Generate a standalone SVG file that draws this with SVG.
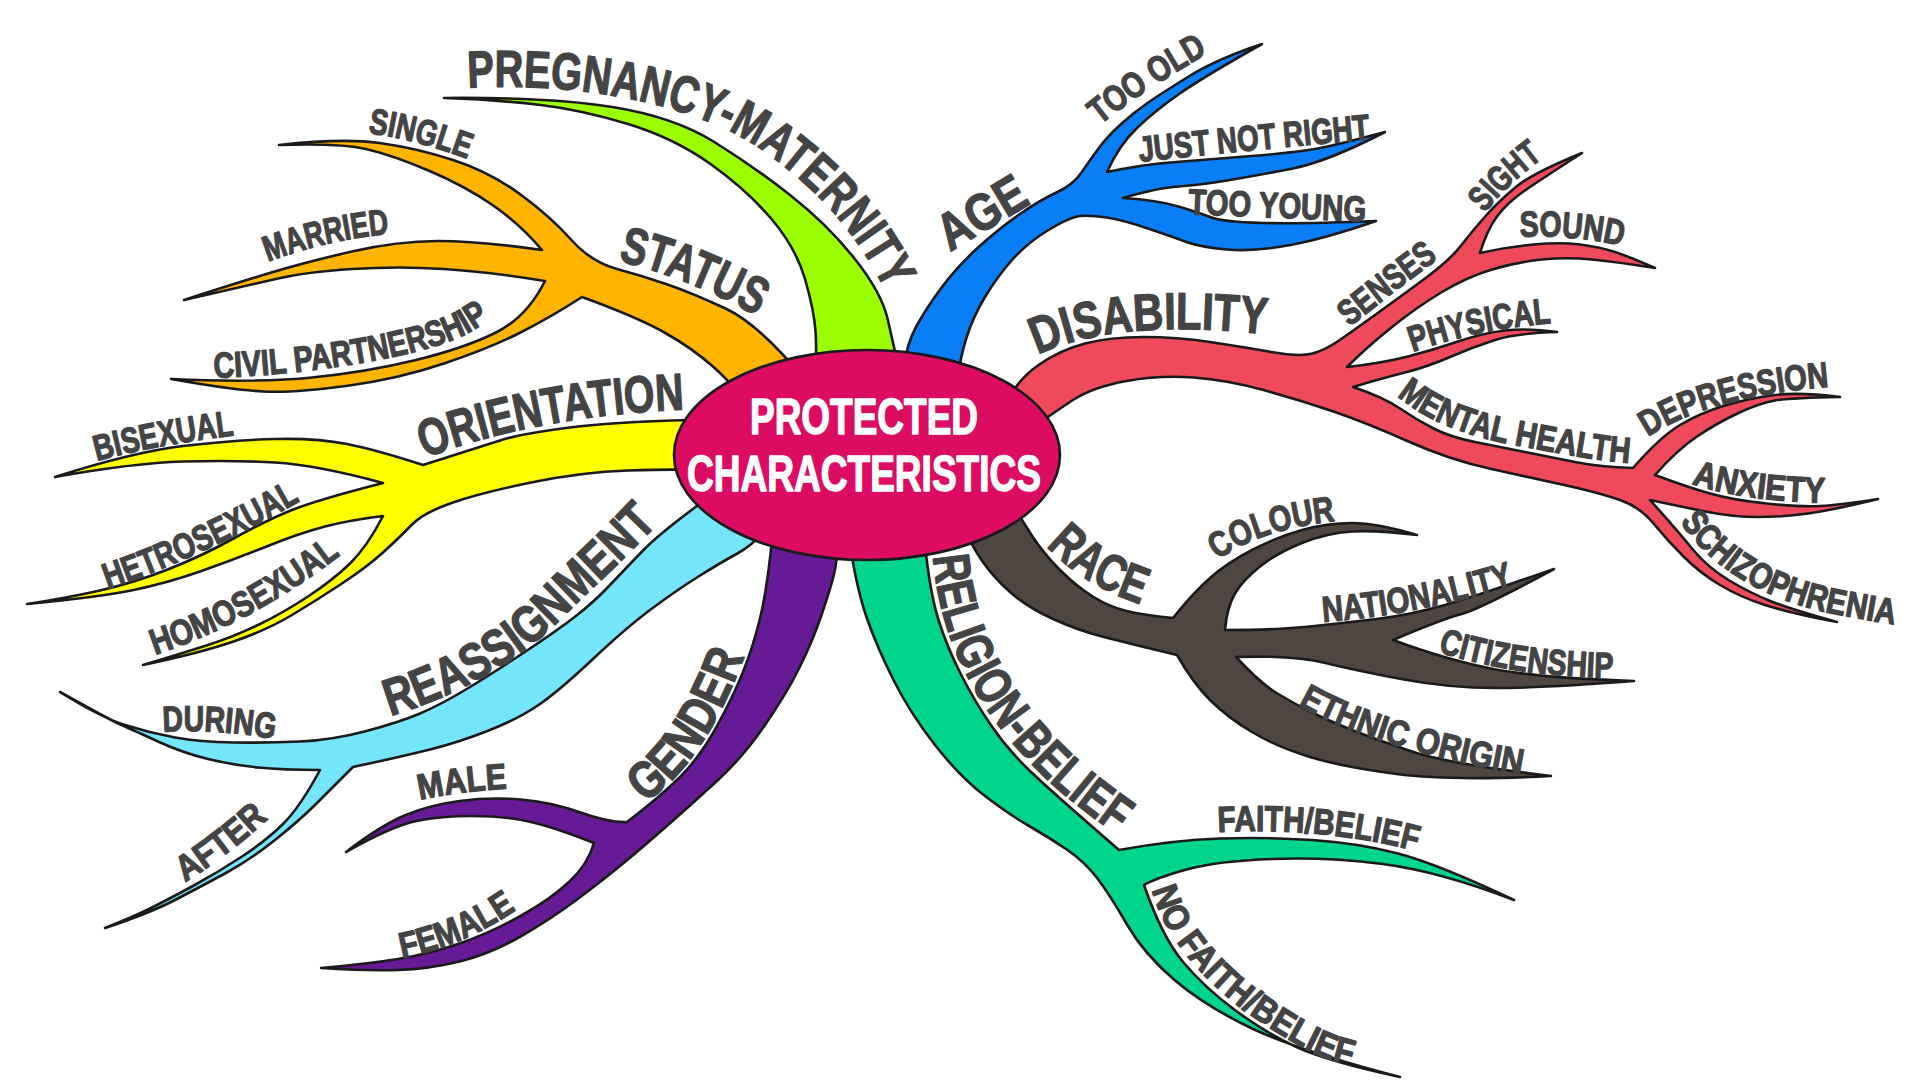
<svg xmlns="http://www.w3.org/2000/svg" width="1920" height="1080" viewBox="0 0 1920 1080">
<style>
.br{stroke:#1a1a1a;stroke-width:2.6;stroke-linejoin:round}
.lb{font-family:"Liberation Sans Narrow","Liberation Sans",Arial,sans-serif;font-weight:bold;fill:#444444;stroke:#444444;stroke-width:1.3px;stroke-linejoin:round}
.m{font-size:52px}
.s{font-size:36px}
.ct{font-family:"Liberation Sans Narrow","Liberation Sans",Arial,sans-serif;font-weight:bold;fill:#ffffff;stroke:#ffffff;stroke-width:1.4px;stroke-linejoin:round;font-size:50px;text-anchor:middle}
</style>
<defs>
<path id="t-preg" d="M 468 88 C 560 82 690 98 765 152 C 835 202 880 262 905 340"/>
<path id="t-status" d="M 618 261 Q 700 280 780 330"/>
<path id="t-orient" d="M 425 458 C 500 430 590 412 700 409"/>
<path id="t-age" d="M 950 252 L 1060 186"/>
<path id="t-dis" d="M 1038 355 C 1090 330 1170 322 1280 336"/>
<path id="t-race" d="M 1046 546 Q 1090 592 1160 610"/>
<path id="t-gender" d="M 645 803 C 685 775 725 725 760 610"/>
<path id="t-reass" d="M 390 716 C 460 695 520 660 560 620 S 630 555 675 505"/>
<path id="t-rel" d="M 933 556 C 940 640 975 700 1016 747 S 1090 815 1140 852"/>
<path id="t-single" d="M 368 133 Q 420 140 475 162"/>
<path id="t-married" d="M 268 262 Q 330 238 400 233"/>
<path id="t-civil" d="M 214 378 C 320 374 430 355 470 332 S 515 295 535 275"/>
<path id="t-bisex" d="M 97 461 Q 160 444 245 434"/>
<path id="t-hetro" d="M 108 589 Q 200 558 302 500"/>
<path id="t-homo" d="M 155 655 Q 260 620 352 546"/>
<path id="t-jnr" d="M 1140 162 Q 1250 150 1385 138"/>
<path id="t-old" d="M 1100 125 Q 1150 85 1225 44"/>
<path id="t-young" d="M 1188 214 Q 1280 218 1375 222"/>
<path id="t-sight" d="M 1485 213 Q 1510 180 1560 146"/>
<path id="t-sound" d="M 1520 237 Q 1575 234 1630 248"/>
<path id="t-senses" d="M 1350 327 Q 1395 290 1448 252"/>
<path id="t-phys" d="M 1413 352 Q 1480 328 1565 322"/>
<path id="t-mental" d="M 1397 396 C 1430 423 1470 437 1520 446 S 1600 462 1645 464"/>
<path id="t-dep" d="M 1648 437 Q 1710 395 1840 386"/>
<path id="t-anx" d="M 1692 484 Q 1750 503 1840 503"/>
<path id="t-schizo" d="M 1680 522 C 1710 565 1760 600 1840 615 S 1890 622 1915 624"/>
<path id="t-colour" d="M 1218 560 Q 1260 528 1345 520"/>
<path id="t-nation" d="M 1323 622 Q 1420 615 1525 582"/>
<path id="t-citizen" d="M 1438 652 Q 1520 678 1625 678"/>
<path id="t-ethnic" d="M 1298 705 C 1340 730 1420 758 1535 777"/>
<path id="t-faith" d="M 1218 832 Q 1330 826 1430 855"/>
<path id="t-nofaith" d="M 1152 890 C 1165 940 1210 990 1270 1028 S 1340 1062 1390 1074"/>
<path id="t-during" d="M 163 732 Q 220 728 285 741"/>
<path id="t-after" d="M 185 882 Q 230 855 280 808"/>
<path id="t-male" d="M 420 800 Q 465 790 520 788"/>
<path id="t-female" d="M 402 958 Q 470 945 530 900"/>
</defs>
<rect width="1920" height="1080" fill="#ffffff"/>
<g id="connectors">
<path id="br-pregnancy" class="br" fill="#9cff00" d="M 900 372 Q 894 348 888 320.5 Q 882 293 854.5 258.5 Q 827 224 790 195 Q 753 166 713.5 141.5 Q 674 117 612.5 107 Q 551 97 444 98 Q 500 100 541 105 Q 582 110 628 124 Q 674 138 710.5 164 Q 747 190 771.5 219 Q 796 248 805 279 Q 814 310 815.5 331 Q 817 352 815 375 Z"/>
<path id="br-status" class="br" fill="#ffb400" d="M 805 380 Q 759 324 725.5 308.5 Q 692 293 667.5 284.5 Q 643 276 617 269 Q 591 262 571 239.5 Q 551 217 520.5 194.5 Q 490 172 453 160 Q 416 148 379.5 143 Q 343 138 279 145 Q 340 143 366 149 Q 392 155 428.5 170.5 Q 465 186 492.5 205 Q 520 224 542 250 Q 478 241 438 241 Q 398 241 352 251.5 Q 306 262 268 273.5 Q 230 285 184 300 Q 250 285 278 278.5 Q 306 272 352 269 Q 398 266 444 269 Q 490 272 545 281 Q 527 317 496 332.5 Q 465 348 416 360 Q 367 372 312 377.5 Q 257 383 171 379 Q 233 390 263.5 391.5 Q 294 393 346 386 Q 398 379 444 363.5 Q 490 348 520.5 332.5 Q 551 317 582 297 Q 637 317 664.5 332.5 Q 692 348 713.5 367 Q 735 386 760 420 Z"/>
<path id="br-orientation" class="br" fill="#ffff00" d="M 690 420 Q 612 422 566 428 Q 520 434 500 440.5 Q 480 447 423 465 Q 377 450 347 444 Q 317 438 275 439 Q 233 440 183 446 Q 133 452 55 477 Q 133 463 183 461.5 Q 233 460 275 462.5 Q 317 465 383 483 Q 317 500 292 510 Q 267 520 233.5 538.5 Q 200 557 166.5 570 Q 133 583 100 590.5 Q 67 598 27 604 Q 100 597 133.5 590 Q 167 583 200 571.5 Q 233 560 266.5 546.5 Q 300 533 325 526.5 Q 350 520 383 516 Q 367 547 350 563.5 Q 333 580 308 596.5 Q 283 613 258 625 Q 233 637 208 645 Q 183 653 143 665 Q 200 653 233.5 641.5 Q 267 630 292 615 Q 317 600 342 583.5 Q 367 567 383.5 552 Q 400 537 411.5 525 Q 423 513 451.5 503 Q 480 493 531 482.5 Q 582 472 628 470.5 Q 674 469 692 470 Z"/>
<path id="br-reassignment" class="br" fill="#74e5fb" d="M 705 500 Q 660 533 643.5 550 Q 627 567 610 585 Q 593 603 574 617.5 Q 555 632 522.5 653.5 Q 490 675 465 690 Q 440 705 420 713.5 Q 400 722 366.5 731 Q 333 740 300 741.5 Q 267 743 233.5 742.5 Q 200 742 175 737.5 Q 150 733 125 725 Q 100 717 60 692 Q 110 720 121.5 725 Q 133 730 158 741.5 Q 183 753 208 759 Q 233 765 258 767.5 Q 283 770 320 770 Q 300 807 283.5 823.5 Q 267 840 242 856.5 Q 217 873 192 886.5 Q 167 900 150 908.5 Q 133 917 105 928 Q 150 913 175 900 Q 200 887 225 873.5 Q 250 860 275 840 Q 300 820 316.5 803.5 Q 333 787 353 767 Q 400 757 430 749.5 Q 460 742 490 730 Q 520 718 540 704 Q 560 690 593.5 658.5 Q 627 627 652 608.5 Q 677 590 698.5 576.5 Q 720 563 736.5 554 Q 753 545 765 530 Z"/>
<path id="br-gender" class="br" fill="#661a96" d="M 772 540 Q 767 590 760 618.5 Q 753 647 743 672 Q 733 697 716.5 727 Q 700 757 680 777 Q 660 797 627 822 Q 610 823 580.5 812.5 Q 551 802 520.5 799.5 Q 490 797 459.5 801 Q 429 805 404.5 815.5 Q 380 826 346 852 Q 392 826 416.5 821 Q 441 816 471.5 816 Q 502 816 526.5 821 Q 551 826 594 843 Q 588 864 569.5 881.5 Q 551 899 520.5 916 Q 490 933 459.5 943.5 Q 429 954 398 959 Q 367 964 321 968 Q 367 971 398 970 Q 429 969 459.5 961.5 Q 490 954 520.5 936.5 Q 551 919 577 899.5 Q 603 880 623 863.5 Q 643 847 668 825 Q 693 803 718 780 Q 743 757 765 725 Q 787 693 800 666.5 Q 813 640 821.5 615 Q 830 590 833.5 576.5 Q 837 563 838 540 Z"/>
<path id="br-religion" class="br" fill="#00d58b" d="M 850 545 Q 857 590 867 618.5 Q 877 647 893.5 680 Q 910 713 935 745 Q 960 777 985 796 Q 1010 815 1030 826.5 Q 1050 838 1067.5 850 Q 1085 862 1097.5 878.5 Q 1110 895 1127 924.5 Q 1144 954 1174.5 980 Q 1205 1006 1251 1028 Q 1297 1050 1400 1077 Q 1327 1061 1296.5 1047 Q 1266 1033 1235.5 1010.5 Q 1205 988 1183.5 962.5 Q 1162 937 1144 885 Q 1156 878 1186.5 869.5 Q 1217 861 1272 859 Q 1327 857 1382.5 864 Q 1438 871 1514 900 Q 1438 864 1398 853.5 Q 1358 843 1312 840 Q 1266 837 1220 838.5 Q 1174 840 1119 850 Q 1052 792 1030 771 Q 1008 750 991.5 726 Q 975 702 961 674.5 Q 947 647 938.5 620 Q 930 593 925 545 Z"/>
<path id="br-race" class="br" fill="#4f4641" d="M 1010 500 Q 1020 517 1031.5 535 Q 1043 553 1060 570 Q 1077 587 1093.5 597 Q 1110 607 1126.5 611 Q 1143 615 1173 618 Q 1193 593 1210 578 Q 1227 563 1252 550 Q 1277 537 1302 530 Q 1327 523 1352 523 Q 1377 523 1417 535 Q 1377 530 1352 531.5 Q 1327 533 1302 543 Q 1277 553 1260 566.5 Q 1243 580 1235 593.5 Q 1227 607 1225 630 Q 1277 630 1310 626.5 Q 1343 623 1376.5 619 Q 1410 615 1445 605 Q 1480 595 1554 569 Q 1480 609 1460 614.5 Q 1440 620 1393 640 Q 1450 661 1496 669.5 Q 1542 678 1634 681 Q 1542 688 1496 688 Q 1450 688 1404 679.5 Q 1358 671 1325.5 663 Q 1293 655 1236 657 Q 1260 683 1276.5 693 Q 1293 703 1310 711.5 Q 1327 720 1352 730 Q 1377 740 1413.5 752 Q 1450 764 1551 776 Q 1450 781 1396.5 774 Q 1343 767 1310 757 Q 1277 747 1252 732 Q 1227 717 1210 700 Q 1193 683 1177 655 Q 1127 643 1102 636.5 Q 1077 630 1052 618.5 Q 1027 607 1010 592 Q 993 577 981.5 560 Q 970 543 960 520 Z"/>
<path id="br-disability" class="br" fill="#ef4a5b" d="M 1005 405 Q 1017 380 1038.5 365 Q 1060 350 1085 343.5 Q 1110 337 1143.5 337 Q 1177 337 1210 342 Q 1243 347 1271.5 352 Q 1300 357 1312.5 353.5 Q 1325 350 1337.5 341.5 Q 1350 333 1375 315 Q 1400 297 1425 278.5 Q 1450 260 1461.5 245 Q 1473 230 1486.5 215 Q 1500 200 1516.5 186.5 Q 1533 173 1582 153 Q 1540 180 1523.5 191.5 Q 1507 203 1497 216.5 Q 1487 230 1480 253 Q 1507 247 1533.5 244.5 Q 1560 242 1580 244.5 Q 1600 247 1615 252 Q 1630 257 1655 268 Q 1617 262 1592 259.5 Q 1567 257 1542 259.5 Q 1517 262 1492 269.5 Q 1467 277 1442 292 Q 1417 307 1392 327 Q 1367 347 1347 367 Q 1383 363 1408 356.5 Q 1433 350 1458 341.5 Q 1483 333 1505 330.5 Q 1527 328 1557 332 Q 1517 333 1495 340 Q 1473 347 1450 357 Q 1427 367 1405 372.5 Q 1383 378 1353 387 Q 1383 397 1400 408.5 Q 1417 420 1433.5 428.5 Q 1450 437 1475 442 Q 1500 447 1525 452 Q 1550 457 1575 462 Q 1600 467 1633 468 Q 1660 437 1680 425 Q 1700 413 1725 405.5 Q 1750 398 1775 395 Q 1800 392 1840 397 Q 1790 398 1775 400.5 Q 1760 403 1738.5 413 Q 1717 423 1697 436.5 Q 1677 450 1655 475 Q 1687 487 1710 493.5 Q 1733 500 1766.5 503.5 Q 1800 507 1820 506 Q 1840 505 1878 499 Q 1833 510 1808 513.5 Q 1783 517 1758 517 Q 1733 517 1708 512 Q 1683 507 1650 500 Q 1677 530 1692 548.5 Q 1707 567 1728.5 580 Q 1750 593 1771.5 601.5 Q 1793 610 1837 622 Q 1790 613 1765 605 Q 1740 597 1720 585 Q 1700 573 1683.5 556.5 Q 1667 540 1653.5 523.5 Q 1640 507 1620 500 Q 1600 493 1566.5 485.5 Q 1533 478 1491.5 469 Q 1450 460 1408.5 441.5 Q 1367 423 1333.5 411.5 Q 1300 400 1263.5 390 Q 1227 380 1193.5 377.5 Q 1160 375 1126.5 381 Q 1093 387 1073 400 Q 1053 413 1030 430 Z"/>
<path id="br-age" class="br" fill="#0a7ef6" d="M 903 372 Q 906 345 916.5 326 Q 927 307 942 287 Q 957 267 977 248.5 Q 997 230 1018.5 215 Q 1040 200 1056.5 192.5 Q 1073 185 1081.5 172.5 Q 1090 160 1098.5 148.5 Q 1107 137 1120 125 Q 1133 113 1147.5 103 Q 1162 93 1189.5 76 Q 1217 59 1262 44 Q 1205 76 1180.5 93 Q 1156 110 1137.5 127.5 Q 1119 145 1107 172 Q 1140 165 1170 162.5 Q 1200 160 1251.5 156 Q 1303 152 1327.5 146.5 Q 1352 141 1385 132 Q 1327 162 1290.5 169 Q 1254 176 1227 180.5 Q 1200 185 1178.5 186.5 Q 1157 188 1123 198 Q 1157 200 1178.5 206.5 Q 1200 213 1211.5 217.5 Q 1223 222 1263 223 Q 1303 224 1376 221 Q 1327 238 1290.5 245 Q 1254 252 1227 249.5 Q 1200 247 1186.5 242 Q 1173 237 1148 228.5 Q 1123 220 1106.5 217.5 Q 1090 215 1080 216 Q 1070 217 1048.5 230 Q 1027 243 1012 260 Q 997 277 985 297 Q 973 317 966.5 337.5 Q 960 358 958 378 Z"/>
</g>
<g id="node-center">
<ellipse cx="867" cy="455" rx="193" ry="105" fill="#dc0c62" stroke="#1a1a1a" stroke-width="2.6"/>
<text class="ct" x="864" y="434" textLength="228" lengthAdjust="spacingAndGlyphs">PROTECTED</text>
<text class="ct" x="864" y="491" textLength="354" lengthAdjust="spacingAndGlyphs">CHARACTERISTICS</text>
</g>
<g id="node-pregnancy"><text class="lb m"><textPath href="#t-preg" textLength="495" lengthAdjust="spacingAndGlyphs">PREGNANCY-MATERNITY</textPath></text></g>
<g id="node-status">
<text class="lb m"><textPath href="#t-status" textLength="150" lengthAdjust="spacingAndGlyphs">STATUS</textPath></text>
<text class="lb s"><textPath href="#t-single" textLength="103" lengthAdjust="spacingAndGlyphs">SINGLE</textPath></text>
<text class="lb s"><textPath href="#t-married" textLength="125" lengthAdjust="spacingAndGlyphs">MARRIED</textPath></text>
<text class="lb s"><textPath href="#t-civil" textLength="285" lengthAdjust="spacingAndGlyphs">CIVIL PARTNERSHIP</textPath></text>
</g>
<g id="node-orientation">
<text class="lb m"><textPath href="#t-orient" textLength="265" lengthAdjust="spacingAndGlyphs">ORIENTATION</textPath></text>
<text class="lb s"><textPath href="#t-bisex" textLength="140" lengthAdjust="spacingAndGlyphs">BISEXUAL</textPath></text>
<text class="lb s"><textPath href="#t-hetro" textLength="212" lengthAdjust="spacingAndGlyphs">HETROSEXUAL</textPath></text>
<text class="lb s"><textPath href="#t-homo" textLength="212" lengthAdjust="spacingAndGlyphs">HOMOSEXUAL</textPath></text>
</g>
<g id="node-reassignment">
<text class="lb m"><textPath href="#t-reass" textLength="335" lengthAdjust="spacingAndGlyphs">REASSIGNMENT</textPath></text>
<text class="lb s"><textPath href="#t-during" textLength="112" lengthAdjust="spacingAndGlyphs">DURING</textPath></text>
<text class="lb s"><textPath href="#t-after" textLength="105" lengthAdjust="spacingAndGlyphs">AFTER</textPath></text>
</g>
<g id="node-gender">
<text class="lb m"><textPath href="#t-gender" textLength="180" lengthAdjust="spacingAndGlyphs">GENDER</textPath></text>
<text class="lb s"><textPath href="#t-male" textLength="88" lengthAdjust="spacingAndGlyphs">MALE</textPath></text>
<text class="lb s"><textPath href="#t-female" textLength="125" lengthAdjust="spacingAndGlyphs">FEMALE</textPath></text>
</g>
<g id="node-religion">
<text class="lb m"><textPath href="#t-rel" textLength="345" lengthAdjust="spacingAndGlyphs">RELIGION-BELIEF</textPath></text>
<text class="lb s"><textPath href="#t-faith" textLength="200" lengthAdjust="spacingAndGlyphs">FAITH/BELIEF</textPath></text>
<text class="lb s"><textPath href="#t-nofaith" textLength="275" lengthAdjust="spacingAndGlyphs">NO FAITH/BELIEF</textPath></text>
</g>
<g id="node-race">
<text class="lb m"><textPath href="#t-race" textLength="112" lengthAdjust="spacingAndGlyphs">RACE</textPath></text>
<text class="lb s"><textPath href="#t-colour" textLength="125" lengthAdjust="spacingAndGlyphs">COLOUR</textPath></text>
<text class="lb s"><textPath href="#t-nation" textLength="195" lengthAdjust="spacingAndGlyphs">NATIONALITY</textPath></text>
<text class="lb s"><textPath href="#t-citizen" textLength="178" lengthAdjust="spacingAndGlyphs">CITIZENSHIP</textPath></text>
<text class="lb s"><textPath href="#t-ethnic" textLength="235" lengthAdjust="spacingAndGlyphs">ETHNIC ORIGIN</textPath></text>
</g>
<g id="node-disability">
<text class="lb m"><textPath href="#t-dis" textLength="232" lengthAdjust="spacingAndGlyphs">DISABILITY</textPath></text>
<text class="lb s"><textPath href="#t-senses" textLength="112" lengthAdjust="spacingAndGlyphs">SENSES</textPath></text>
<text class="lb s"><textPath href="#t-sight" textLength="80" lengthAdjust="spacingAndGlyphs">SIGHT</textPath></text>
<text class="lb s"><textPath href="#t-sound" textLength="103" lengthAdjust="spacingAndGlyphs">SOUND</textPath></text>
<text class="lb s"><textPath href="#t-phys" textLength="142" lengthAdjust="spacingAndGlyphs">PHYSICAL</textPath></text>
<text class="lb s"><textPath href="#t-mental" textLength="245" lengthAdjust="spacingAndGlyphs">MENTAL HEALTH</textPath></text>
<text class="lb s"><textPath href="#t-dep" textLength="190" lengthAdjust="spacingAndGlyphs">DEPRESSION</textPath></text>
<text class="lb s"><textPath href="#t-anx" textLength="135" lengthAdjust="spacingAndGlyphs">ANXIETY</textPath></text>
<text class="lb s"><textPath href="#t-schizo" textLength="245" lengthAdjust="spacingAndGlyphs">SCHIZOPHRENIA</textPath></text>
</g>
<g id="node-age">
<text class="lb m"><textPath href="#t-age" textLength="95" lengthAdjust="spacingAndGlyphs">AGE</textPath></text>
<text class="lb s"><textPath href="#t-old" textLength="130" lengthAdjust="spacingAndGlyphs">TOO OLD</textPath></text>
<text class="lb s"><textPath href="#t-jnr" textLength="232" lengthAdjust="spacingAndGlyphs">JUST NOT RIGHT</textPath></text>
<text class="lb s"><textPath href="#t-young" textLength="178" lengthAdjust="spacingAndGlyphs">TOO YOUNG</textPath></text>
</g>
</svg>
